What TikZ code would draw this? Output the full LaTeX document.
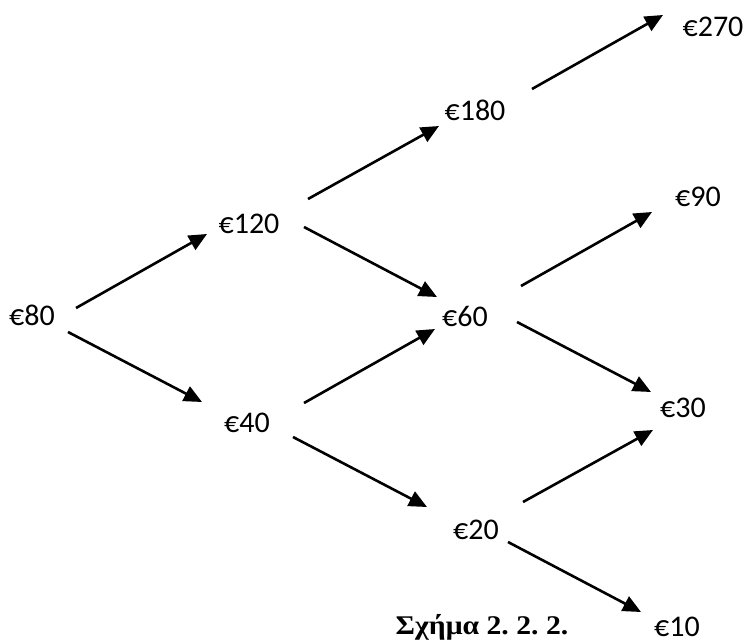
\documentclass[tikz,border=0pt]{standalone}
\usepackage{fontspec}
\setmainfont{Carlito}
\newfontfamily\capfont{Liberation Serif}
\usetikzlibrary{arrows.meta}
\tikzset{
  val/.style={inner sep=0pt, font=\fontsize{30bp}{36bp}\selectfont},
  captext/.style={inner sep=0pt, font=\capfont\bfseries\fontsize{27bp}{32bp}\selectfont},
  arr/.style={line width=2.6bp, -{Triangle[length=18bp,width=16bp]}}
}
\begin{document}
\begin{tikzpicture}[x=1bp,y=-1bp]
\useasboundingbox (0,0) rectangle (745,643);
\node[val] (n80) at (32,315) {€80};
\node[val] (n120) at (249,224) {€120};
\node[val] (n40) at (247,423) {€40};
\node[val] (n180) at (475,110) {€180};
\node[val] (n60) at (465,316) {€60};
\node[val] (n20) at (476,530) {€20};
\node[val] (n270) at (713,27) {€270};
\node[val] (n90) at (698,197) {€90};
\node[val] (n30) at (683,408) {€30};
\node[val] (n10) at (677,627) {€10};
\node[captext, xscale=1.1] (caption) at (482,627) {Σχήμα 2.~2.~2.};
\draw[arr] ([shift={(44,-7)}]n80.center) -- ([shift={(-42,10)}]n120.center);
\draw[arr] ([shift={(36,17)}]n80.center) -- ([shift={(-45,-21)}]n40.center);
\draw[arr] ([shift={(59,-25)}]n120.center) -- ([shift={(-36,16)}]n180.center);
\draw[arr] ([shift={(55,3)}]n120.center) -- ([shift={(-28,-19)}]n60.center);
\draw[arr] ([shift={(57,-20)}]n40.center) -- ([shift={(-30,13)}]n60.center);
\draw[arr] ([shift={(46,14)}]n40.center) -- ([shift={(-49,-23)}]n20.center);
\draw[arr] ([shift={(57,-21)}]n180.center) -- ([shift={(-50,-12)}]n270.center);
\draw[arr] ([shift={(56,-30)}]n60.center) -- ([shift={(-46,15)}]n90.center);
\draw[arr] ([shift={(52,6)}]n60.center) -- ([shift={(-32,-16)}]n30.center);
\draw[arr] ([shift={(47,-28)}]n20.center) -- ([shift={(-30,22)}]n30.center);
\draw[arr] ([shift={(32,12)}]n20.center) -- ([shift={(-36,-15)}]n10.center);
\end{tikzpicture}
\end{document}
